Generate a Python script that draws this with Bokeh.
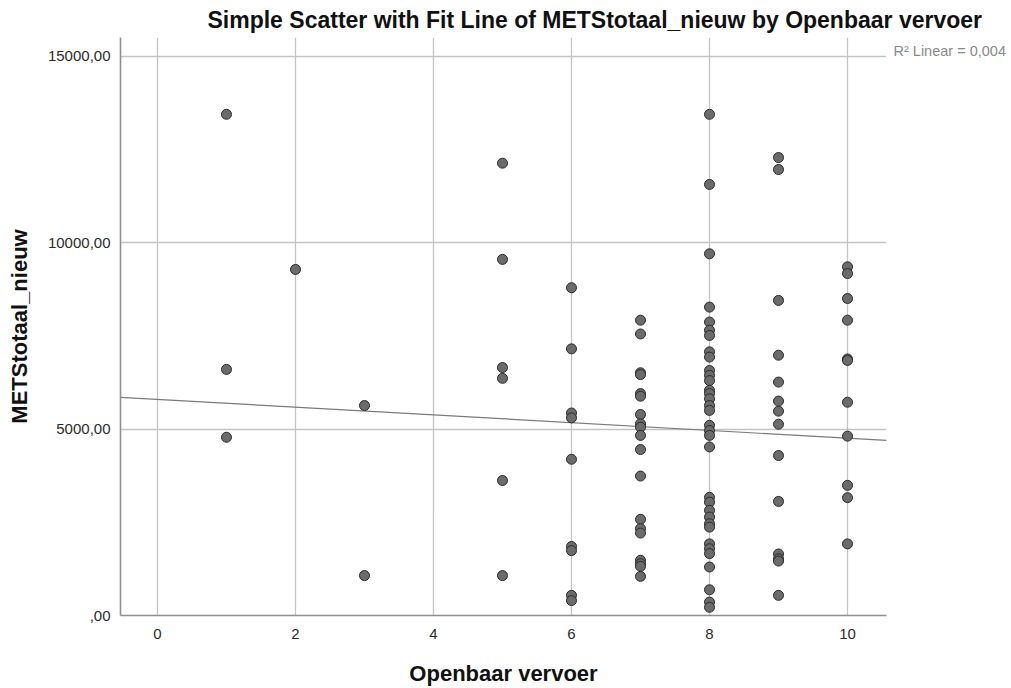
from bokeh.plotting import figure
from bokeh.models import Range1d, FixedTicker, LinearAxis, ColumnDataSource
from bokeh.embed import file_html
from bokeh.resources import INLINE

# ---- data ----
col_1 = [13440, 6600, 4780]
col_2 = [9280]
col_3 = [5630, 1070]
col_5 = [12130, 9550, 6650, 6360, 3620, 1070]
col_6 = [8790, 7150, 5430, 5300, 4190, 1850, 1740, 540, 400]
col_7 = [7920, 7550, 6510, 6460, 5950, 5880, 5390, 5140, 5050, 4830, 4450,
         3740, 2580, 2330, 2210, 1480, 1390, 1320, 1050]
col_8 = [13440, 11560, 9700, 8270, 7870, 7650, 7510, 7070, 6930, 6570, 6440,
         6300, 6040, 5950, 5810, 5630, 5500, 5100, 4960, 4830, 4520, 3170,
         3040, 2820, 2640, 2460, 2370, 1920, 1790, 1660, 1300, 690, 360, 220]
col_9 = [12280, 11960, 8450, 6980, 6260, 5750, 5480, 5130, 4290, 3060, 1650,
         1520, 1460, 540]
col_10 = [9350, 9170, 8500, 7920, 6880, 6840, 5720, 4810, 3490, 3160, 1920]

columns = {1: col_1, 2: col_2, 3: col_3, 5: col_5, 6: col_6, 7: col_7,
           8: col_8, 9: col_9, 10: col_10}

fit_intercept = 5795
fit_slope = -104
r2_text = "R\u00b2 Linear = 0,004"
r2_level = 15150

x_ticks = [0, 2, 4, 6, 8, 10]
y_ticks = [0, 5000, 10000, 15000]
y_tick_labels = [",00", "5000,00", "10000,00", "15000,00"]

title_text = "Simple Scatter with Fit Line of METStotaal_nieuw by Openbaar vervoer"
x_title = "Openbaar vervoer"
y_title = "METStotaal_nieuw"

x_lo, x_hi = -0.536, 10.565
y_lo, y_hi = 0, 15500

xs, ys = [], []
for k, vals in columns.items():
    for v in vals:
        xs.append(k)
        ys.append(v)
src = ColumnDataSource(dict(x=xs, y=ys))

FONT = "Liberation Sans"

p = figure(width=1011, height=688, output_backend="svg", toolbar_location=None,
           x_range=Range1d(x_lo, x_hi), y_range=Range1d(y_lo, y_hi),
           min_border_left=120, min_border_right=125, min_border_top=37,
           min_border_bottom=73)
p.outline_line_color = None
p.background_fill_color = "white"
p.border_fill_color = "white"

p.title.text = title_text
p.title.text_font = FONT
p.title.text_font_size = "23px"
p.title.text_font_style = "bold"
p.title.text_color = "#111111"
p.title.align = "left"
p.title.offset = 87
p.title.standoff = 9

# grid
p.xgrid.ticker = FixedTicker(ticks=x_ticks)
p.ygrid.ticker = FixedTicker(ticks=y_ticks)
for g in (p.xgrid, p.ygrid):
    g.grid_line_color = "#c4c4c4"
    g.grid_line_width = 1.3

# axes
for ax in (p.xaxis, p.yaxis):
    ax.axis_line_color = "#8f8f8f"
    ax.axis_line_width = 1.6
    ax.major_tick_line_color = None
    ax.minor_tick_line_color = None
    ax.major_label_text_font = FONT
    ax.major_label_text_font_size = "15px"
    ax.major_label_text_color = "#2b2b2b"
    ax.axis_label_text_font = FONT
    ax.axis_label_text_font_size = "22px"
    ax.axis_label_text_font_style = "bold"
    ax.axis_label_text_color = "#111111"

p.xaxis.ticker = FixedTicker(ticks=x_ticks)
p.yaxis.ticker = FixedTicker(ticks=y_ticks)
p.yaxis.major_label_overrides = {t: l for t, l in zip(y_ticks, y_tick_labels)}
p.xaxis.axis_label = x_title
p.yaxis.axis_label = y_title
p.xaxis.major_label_standoff = 7
p.xaxis.axis_label_standoff = 19
p.yaxis.major_label_standoff = 4
p.yaxis.axis_label_standoff = 13

# R² annotation as a label-only axis on the right
r2_axis = LinearAxis(ticker=FixedTicker(ticks=[r2_level]),
                     major_label_overrides={r2_level: r2_text})
r2_axis.axis_line_color = None
r2_axis.major_tick_line_color = None
r2_axis.minor_tick_line_color = None
r2_axis.major_label_standoff = 1
r2_axis.major_label_text_font = FONT
r2_axis.major_label_text_font_size = "14.5px"
r2_axis.major_label_text_color = "#8a8a8a"
p.add_layout(r2_axis, "right")

# fit line
p.line([x_lo, x_hi], [fit_intercept + fit_slope * x_lo, fit_intercept + fit_slope * x_hi],
       line_color="#7a7a7a", line_width=1.2)

# points
p.scatter("x", "y", source=src, size=10, fill_color="#6b6b6b",
          line_color="#2a2a2a", line_width=1, fill_alpha=1)

open("out.html", "w").write(file_html(p, INLINE))
